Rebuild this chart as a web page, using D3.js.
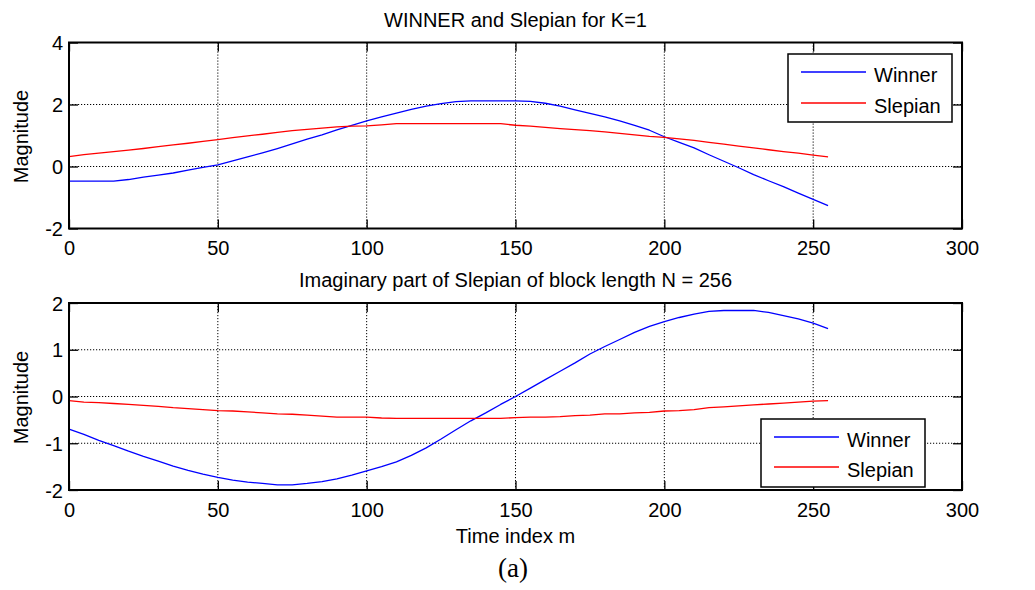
<!DOCTYPE html>
<html>
<head>
<meta charset="utf-8">
<script src="https://cdn.jsdelivr.net/npm/d3@7/dist/d3.min.js"></script>
<style>
  html, body { margin: 0; padding: 0; background: #fff; }
  text { font-family: "Liberation Sans", Arial, Helvetica, sans-serif; fill: #000; }
</style>
</head>
<body>
<script>
// Sample index m (every 5th of 256 samples)
const sampleIndex = d3.range(0, 256, 5);

// Panel 1: WINNER vs Slepian, K = 1
const winnerK1 = [
  -0.47, -0.47, -0.47, -0.47, -0.42, -0.34, -0.28, -0.21, -0.12, -0.03,
   0.05,  0.18,  0.31,  0.44,  0.58,  0.73,  0.88,  1.02,  1.18,  1.33,
   1.47,  1.60,  1.72,  1.84,  1.95,  2.03,  2.09,  2.12,  2.12,  2.12,
   2.12,  2.10,  2.04,  1.95,  1.83,  1.71,  1.60,  1.47,  1.33,  1.17,
   0.96,  0.78,  0.60,  0.38,  0.17, -0.04, -0.26, -0.46, -0.65, -0.86,
  -1.06, -1.26
];
const slepianK1 = [
   0.32,  0.38,  0.43,  0.48,  0.53,  0.58,  0.64,  0.70,  0.75,  0.81,
   0.87,  0.93,  0.99,  1.04,  1.10,  1.16,  1.20,  1.24,  1.28,  1.30,
   1.31,  1.34,  1.38,  1.38,  1.38,  1.38,  1.38,  1.38,  1.38,  1.38,
   1.33,  1.30,  1.26,  1.22,  1.19,  1.16,  1.12,  1.07,  1.02,  0.97,
   0.94,  0.89,  0.84,  0.78,  0.72,  0.66,  0.60,  0.54,  0.48,  0.43,
   0.37,  0.31
];

// Panel 2: imaginary part, block length N = 256
const winnerImag = [
  -0.70, -0.81, -0.94, -1.05, -1.17, -1.28, -1.38, -1.49, -1.58, -1.66,
  -1.73, -1.79, -1.83, -1.86, -1.89, -1.89, -1.86, -1.82, -1.76, -1.68,
  -1.59, -1.50, -1.40, -1.26, -1.10, -0.91, -0.71, -0.52, -0.35, -0.17,
   0.00,  0.18,  0.36,  0.54,  0.72,  0.91,  1.07,  1.22,  1.37,  1.50,
   1.60,  1.69,  1.76,  1.82,  1.84,  1.84,  1.84,  1.80,  1.73,  1.66,
   1.57,  1.45
];
const slepianImag = [
  -0.09, -0.12, -0.13, -0.15, -0.17, -0.19, -0.21, -0.24, -0.26, -0.28,
  -0.30, -0.31, -0.33, -0.35, -0.37, -0.38, -0.40, -0.42, -0.44, -0.44,
  -0.44, -0.46, -0.47, -0.47, -0.47, -0.47, -0.47, -0.47, -0.47, -0.47,
  -0.45, -0.44, -0.44, -0.43, -0.41, -0.40, -0.37, -0.37, -0.35, -0.34,
  -0.31, -0.30, -0.28, -0.24, -0.22, -0.20, -0.18, -0.16, -0.14, -0.12,
  -0.10, -0.09
];

// Axis ticks and labels
const xTicks = [0, 50, 100, 150, 200, 250, 300];
const yTicksTop = [-2, 0, 2, 4];
const yTicksBottom = [-2, -1, 0, 1, 2];
const seriesNames = ["Winner", "Slepian"];
const seriesColors = ["#0000ff", "#ff0000"];
const titles = ["WINNER and Slepian for K=1", "Imaginary part of Slepian of block length N = 256"];
const yLabel = "Magnitude";
const xLabel = "Time index m";
const caption = "(a)";

const W = 1035, H = 590;
const FS = 20;
const plainNum = d => String(d);   // hyphen-minus, as in the original axis labels
const svg = d3.select("body").append("svg")
  .attr("width", W).attr("height", H)
  .attr("viewBox", `0 0 ${W} ${H}`);
svg.append("rect").attr("width", W).attr("height", H).attr("fill", "#fff");

const x = d3.scaleLinear().domain([0, 300]).range([69, 962]);

function drawPanel(opts) {
  const { y, yTicks, series, title, titleY, legend } = opts;
  const g = svg.append("g");
  const [x0, x1] = x.range();
  const [yb, yt] = y.range();

  // dotted grid
  g.append("g").selectAll("line").data(xTicks.slice(1, -1)).join("line")
    .attr("x1", d => x(d)).attr("x2", d => x(d))
    .attr("y1", yt).attr("y2", yb)
    .attr("stroke", "#000").attr("stroke-width", 1)
    .attr("stroke-dasharray", "1.2,1.8");
  g.append("g").selectAll("line").data(yTicks.slice(1, -1)).join("line")
    .attr("x1", x0).attr("x2", x1)
    .attr("y1", d => y(d)).attr("y2", d => y(d))
    .attr("stroke", "#000").attr("stroke-width", 1)
    .attr("stroke-dasharray", "1.2,1.8");

  // inward ticks on all four sides
  const tl = 9;
  const axB = g.append("g").attr("transform", `translate(0,${yb})`)
    .call(d3.axisBottom(x).tickValues(xTicks).tickSize(-tl).tickFormat(plainNum));
  const axT = g.append("g").attr("transform", `translate(0,${yt})`)
    .call(d3.axisTop(x).tickValues(xTicks).tickSize(-tl).tickFormat(""));
  const axL = g.append("g").attr("transform", `translate(${x0},0)`)
    .call(d3.axisLeft(y).tickValues(yTicks).tickSize(-tl).tickFormat(plainNum));
  const axR = g.append("g").attr("transform", `translate(${x1},0)`)
    .call(d3.axisRight(y).tickValues(yTicks).tickSize(-tl).tickFormat(""));
  [axB, axT, axL, axR].forEach(a => {
    a.select(".domain").remove();
    a.selectAll(".tick line").attr("stroke", "#000").attr("stroke-width", 1.3);
    a.selectAll("text").attr("font-family", null).attr("font-size", FS).attr("fill", "#000");
  });
  axB.selectAll("text").attr("y", 26.5).attr("dy", "0");
  axL.selectAll("text").attr("x", -6).attr("dy", "0.36em");

  // series lines
  const line = d3.line()
    .x((d, i) => x(sampleIndex[i]))
    .y(d => y(d));
  series.forEach((s, k) => {
    g.append("path").datum(s)
      .attr("fill", "none")
      .attr("stroke", seriesColors[k])
      .attr("stroke-width", 1.3)
      .attr("stroke-linejoin", "round")
      .attr("d", line);
  });

  // frame
  g.append("rect")
    .attr("x", x0).attr("y", yt)
    .attr("width", x1 - x0).attr("height", yb - yt)
    .attr("fill", "none").attr("stroke", "#000").attr("stroke-width", 2);

  // title
  g.append("text").attr("x", (x0 + x1) / 2).attr("y", titleY)
    .attr("text-anchor", "middle").attr("font-size", FS).text(title);

  // y label
  g.append("text")
    .attr("transform", `translate(28,${(yb + yt) / 2 + 1}) rotate(-90)`)
    .attr("text-anchor", "middle").attr("font-size", FS).text(yLabel);

  // legend
  const lg = g.append("g");
  lg.append("rect")
    .attr("x", legend.x).attr("y", legend.y)
    .attr("width", legend.w).attr("height", legend.h)
    .attr("fill", "#fff").attr("stroke", "#000").attr("stroke-width", 1.5);
  seriesNames.forEach((name, k) => {
    const ly = legend.y + legend.rows[k];
    lg.append("line")
      .attr("x1", legend.x + 13).attr("x2", legend.x + 78)
      .attr("y1", ly).attr("y2", ly)
      .attr("stroke", seriesColors[k]).attr("stroke-width", 1.3);
    lg.append("text")
      .attr("x", legend.x + 86).attr("y", ly + 9.5)
      .attr("font-size", FS).text(name);
  });
}

drawPanel({
  y: d3.scaleLinear().domain([-2, 4]).range([228.5, 42.5]),
  yTicks: yTicksTop,
  series: [winnerK1, slepianK1],
  title: titles[0],
  titleY: 27,
  legend: { x: 788, y: 54, w: 164, h: 68, rows: [18, 49] }
});

drawPanel({
  y: d3.scaleLinear().domain([-2, 2]).range([490, 303]),
  yTicks: yTicksBottom,
  series: [winnerImag, slepianImag],
  title: titles[1],
  titleY: 287,
  legend: { x: 761, y: 419, w: 164, h: 68, rows: [18, 48] }
});

// x label and caption
svg.append("text").attr("x", 515.5).attr("y", 543)
  .attr("text-anchor", "middle").attr("font-size", FS).text(xLabel);
svg.append("text").attr("x", 513).attr("y", 577)
  .attr("text-anchor", "middle")
  .attr("font-size", 27)
  .style("font-family", "'Liberation Serif', 'Times New Roman', serif")
  .text(caption);
</script>
</body>
</html>
